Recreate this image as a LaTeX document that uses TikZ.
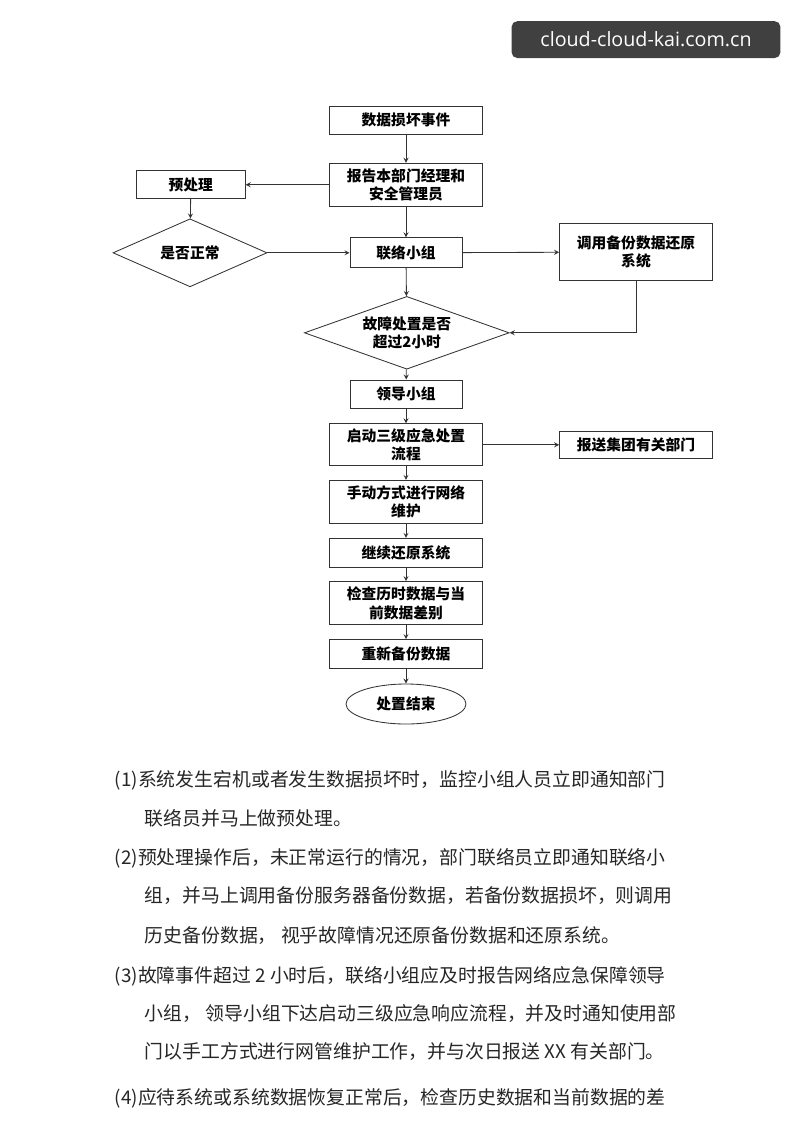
\documentclass[tikz,border=0pt]{standalone}
\usepackage{fontspec}
\setmainfont{Noto Sans CJK SC}
\newfontfamily\badgefont{Open Sans}
\usetikzlibrary{shapes,arrows,positioning,calc}

\begin{document}
\begin{tikzpicture}[
    box/.style={rectangle, draw=black!80, line width=0.6pt, align=center, font=\fontsize{10.5}{13}\selectfont\bfseries, inner sep=2pt},
    dec/.style={diamond, draw=black!80, line width=0.6pt, align=center, aspect=2.2, font=\fontsize{10.5}{13}\selectfont\bfseries, inner sep=0pt},
    para/.style={anchor=west, font=\fontsize{13.4}{16}\selectfont, text=black!85},
    arrow/.style={->,>=stealth,line width=0.6pt,draw=black!80}
]
\useasboundingbox (0,0) rectangle (20,-28.275);

% Badge
\node[fill=black!75, rounded corners=4pt, text=white, font=\badgefont\fontsize{14}{16}\selectfont, minimum width=6.72cm, minimum height=0.92cm] (badge) at (16.15,-0.99) {cloud-cloud-kai.com.cn};

% Main column
\node[box, minimum width=3.82cm, minimum height=0.7cm] (event) at (10.15,-3.0) {数据损坏事件};
\node[box, minimum width=3.82cm, minimum height=1.08cm] (report) at (10.15,-4.62) {报告本部门经理和\\安全管理员};
\node[box, minimum width=2.72cm, minimum height=0.7cm] (pre) at (4.77,-4.62) {预处理};
\node[dec, minimum width=3.85cm, minimum height=1.7cm] (normal) at (4.75,-6.32) {是否正常};
\node[box, minimum width=2.8cm, minimum height=0.75cm] (liaison) at (10.15,-6.32) {联络小组};
\node[box, minimum width=3.82cm, minimum height=1.42cm] (restore) at (15.9,-6.3) {调用备份数据还原\\系统};
\node[dec, minimum width=5.12cm, minimum height=1.65cm] (over) at (10.17,-8.32) {故障处置是否\\超过2小时};
\node[box, minimum width=2.8cm, minimum height=0.7cm] (lead) at (10.15,-9.85) {领导小组};
\node[box, minimum width=3.82cm, minimum height=1.05cm] (level) at (10.15,-11.12) {启动三级应急处置\\流程};
\node[box, minimum width=3.82cm, minimum height=0.68cm] (group) at (15.9,-11.12) {报送集团有关部门};
\node[box, minimum width=3.82cm, minimum height=1.08cm] (manual) at (10.15,-12.55) {手动方式进行网络\\维护};
\node[box, minimum width=3.82cm, minimum height=0.72cm] (cont) at (10.15,-13.82) {继续还原系统};
\node[box, minimum width=3.82cm, minimum height=1.08cm] (check) at (10.15,-15.08) {检查历时数据与当\\前数据差别};
\node[box, minimum width=3.82cm, minimum height=0.72cm] (backup) at (10.15,-16.35) {重新备份数据};
\node[ellipse, draw=black!80, line width=0.6pt, minimum width=3.0cm, minimum height=1.0cm, font=\fontsize{10.5}{13}\selectfont\bfseries] (end) at (10.15,-17.6) {处置结束};

% Arrows
\draw[arrow] (event) -- (report);
\draw[arrow] (report) -- (pre);
\draw[arrow] (pre) -- (normal);
\draw[arrow] (normal) -- (liaison);
\draw[arrow] (report) -- (liaison);
\draw[arrow] (liaison) -- (restore);
\draw[arrow] (liaison) -- (over);
\draw[arrow] (restore.south) |- (over.east);
\draw[arrow] (over) -- (lead);
\draw[arrow] (lead) -- (level);
\draw[arrow] (level) -- (group);
\draw[arrow] (level) -- (manual);
\draw[arrow] (manual) -- (cont);
\draw[arrow] (cont) -- (check);
\draw[arrow] (check) -- (backup);
\draw[arrow] (backup) -- (end);

% Notes
\node[para] (p1a) at (2.75,-19.5) {(1)系统发生宕机或者发生数据损坏时，监控小组人员立即通知部门};
\node[para] (p1b) at (3.5,-20.45) {联络员并马上做预处理。};
\node[para] (p2a) at (2.75,-21.45) {(2)预处理操作后，未正常运行的情况，部门联络员立即通知联络小};
\node[para] (p2b) at (3.5,-22.4) {组，并马上调用备份服务器备份数据，若备份数据损坏，则调用};
\node[para] (p2c) at (3.5,-23.38) {历史备份数据， 视乎故障情况还原备份数据和还原系统。};
\node[para] (p3a) at (2.75,-24.4) {(3)故障事件超过 2 小时后，联络小组应及时报告网络应急保障领导};
\node[para] (p3b) at (3.5,-25.35) {小组， 领导小组下达启动三级应急响应流程，并及时通知使用部};
\node[para] (p3c) at (3.5,-26.3) {门以手工方式进行网管维护工作，并与次日报送 XX 有关部门。};
\node[para] (p4a) at (2.75,-27.45) {(4)应待系统或系统数据恢复正常后，检查历史数据和当前数据的差};
\end{tikzpicture}
\end{document}
